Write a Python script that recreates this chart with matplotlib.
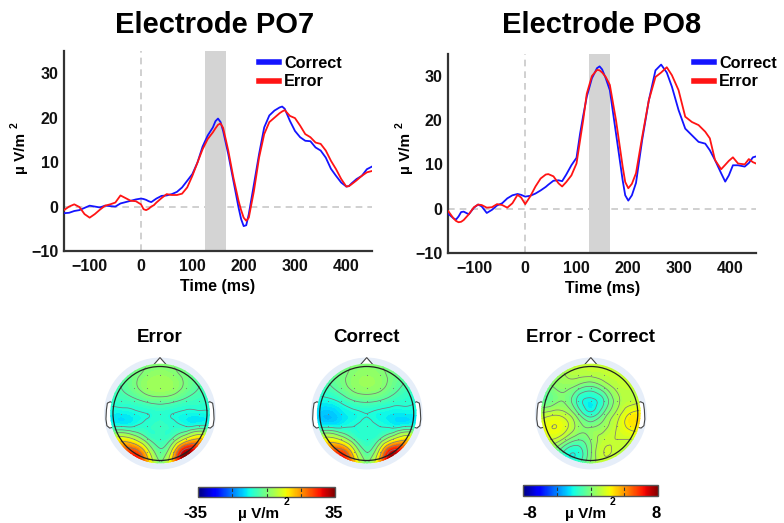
import numpy as np
import matplotlib
matplotlib.use('Agg')
import matplotlib.pyplot as plt
import matplotlib.tri as mtri
from matplotlib.patches import Circle, Polygon
from matplotlib.lines import Line2D
from matplotlib.cm import ScalarMappable
from matplotlib.colors import Normalize

# ---------------- data ----------------
# Electrode PO7
t_po7 = [-150, -140, -130, -120, -110, -100, -90, -80, -70, -60, -50, -40, -30, -20, -10,
         0, 5, 10, 15, 20, 25, 30, 40, 50, 60, 70, 80, 90, 100, 110, 120, 130, 140, 145,
         150, 155, 160, 170, 180, 190, 195, 200, 205, 210, 220, 230, 240, 250, 260, 270,
         275, 280, 290, 300, 310, 320, 330, 340, 350, 360, 370, 380, 390, 400, 405, 410,
         420, 430, 440, 450]
po7_correct = [-1.5, -1.4, -1.0, -0.8, -0.3, 0.2, 0.0, -0.2, 0.2, 0.1, 0.0, 0.7, 1.0, 1.3, 1.6,
               1.8, 1.7, 1.5, 1.2, 1.0, 1.4, 1.8, 2.4, 2.5, 2.8, 3.3, 4.3, 5.8, 7.3, 9.9, 13.5, 16.0, 17.8, 19.2,
               19.8, 19.0, 17.0, 11.8, 5.8, -0.2, -2.8, -4.4, -4.2, -1.7, 5.0, 11.8, 17.8, 20.5, 21.6, 22.3,
               22.5, 22.0, 19.3, 17.0, 15.6, 14.8, 14.7, 13.3, 12.6, 11.0, 8.5, 6.9, 5.4, 4.5, 4.6, 5.2,
               6.2, 6.9, 8.4, 9.0]
po7_error = [-0.8, 0.0, 0.5, -0.1, -1.7, -2.5, -1.7, -0.7, 0.2, 0.5, 0.9, 2.5, 1.9, 1.3, 1.2,
             0.5, -0.6, -0.8, -0.5, 0.0, 0.3, 0.9, 1.9, 2.8, 2.6, 2.6, 2.9, 4.3, 6.9, 9.9, 12.9, 15.2, 16.7, 17.6,
             18.4, 18.7, 17.7, 12.6, 6.5, 1.3, -0.8, -2.5, -3.2, -2.5, 3.5, 11.0, 16.3, 19.0, 20.0, 21.0,
             21.4, 21.7, 20.4, 19.9, 18.2, 16.3, 15.6, 14.4, 14.1, 12.6, 10.3, 8.4, 6.2, 4.5, 4.6, 5.0,
             5.9, 6.9, 7.7, 8.0]

# Electrode PO8
t_po8 = [-150, -140, -135, -130, -125, -120, -110, -100, -92, -85, -75, -65, -55, -45, -35, -25,
         -15, -8, 0, 10, 20, 30, 40, 45, 55, 65, 72, 80, 90, 100, 107, 113, 120, 130, 140, 145,
         150, 157, 165, 177, 190, 195, 201, 208, 216, 228, 241, 254, 265, 276, 286, 299, 312,
         325, 338, 351, 360, 370, 382, 390, 397, 405, 415, 428, 436, 444, 450]
po8_correct = [-1.2, -2.2, -2.5, -1.8, -0.8, -0.7, -1.3, 0.2, 0.9, 0.5, -1.0, -0.3, 0.7, 1.2, 2.3, 3.0,
               3.3, 3.1, 2.7, 2.9, 3.4, 4.1, 4.9, 5.4, 6.3, 6.4, 6.2, 7.7, 9.8, 11.5, 17.0, 21.0, 25.3, 29.5, 31.8, 32.2,
               31.5, 29.5, 26.8, 17.0, 6.4, 3.0, 1.8, 3.0, 5.8, 15.5, 24.5, 31.3, 32.6, 30.8, 27.6, 22.3, 18.1,
               16.6, 15.1, 14.7, 13.2, 11.0, 8.0, 6.1, 7.5, 9.8, 9.8, 9.5, 10.3, 11.6, 11.8]
po8_error = [-0.6, -2.2, -2.8, -3.1, -3.0, -2.6, -1.3, 0.3, 0.9, 0.8, 0.2, 0.3, 1.0, 0.8, 0.2, 1.2,
             3.1, 2.5, 1.0, 2.8, 5.0, 6.8, 7.7, 7.8, 7.3, 5.7, 5.0, 6.0, 7.5, 10.2, 15.5, 20.0, 26.0, 30.0, 31.4, 31.3,
             30.8, 29.8, 28.0, 20.0, 9.5, 6.0, 4.6, 5.6, 8.0, 16.2, 24.5, 29.8, 30.8, 32.0, 30.2, 26.8, 20.8,
             19.6, 18.9, 17.4, 15.9, 11.0, 8.9, 9.9, 10.8, 11.6, 10.2, 10.0, 11.2, 10.5, 10.2]

window_ms = [125, 165]
x_ticks = [-100, 0, 100, 200, 300, 400]
y_ticks = [-10, 0, 10, 20, 30]
legend_labels = ['Correct', 'Error']

# Scalp maps: values on a 9x9 grid (rows front -> back, columns left -> right)
topo_error = [
    [-2, -2, -1, 0, 0, 0, -1, -2, -2],
    [-3, -3, -1, 1, 2, 1, -1, -3, -3],
    [-5, -4, -1, 2, 3, 2, -1, -4, -5],
    [-7, -6, -5, -3, -2, -3, -5, -6, -7],
    [-9, -10, -9, -8, -7, -8, -9, -9, -8],
    [-7, -8, -8, -7, -6, -7, -8, -7, -6],
    [6, 10, 6, -3, -6, -3, 8, 14, 10],
    [14, 20, 24, 10, -3, 10, 32, 24, 16],
    [14, 22, 28, 16, 0, 16, 34, 28, 16],
]
topo_correct = [
    [-2, -2, -1, 0, 0, 0, -1, -2, -2],
    [-4, -3, -1, 1, 2, 1, -1, -3, -4],
    [-6, -5, -2, 1, 2, 1, -2, -5, -6],
    [-9, -9, -7, -4, -3, -4, -6, -7, -8],
    [-11, -13, -11, -9, -8, -9, -10, -10, -9],
    [-8, -9, -9, -8, -7, -8, -9, -8, -7],
    [5, 9, 5, -4, -7, -4, 6, 12, 9],
    [13, 18, 24, 9, -4, 9, 30, 22, 15],
    [14, 22, 28, 16, 0, 16, 32, 26, 16],
]
topo_diff = [
    [1, 1, 1.2, 1.3, 1.3, 1.3, 1.2, 1, 1],
    [0, 0.3, 0.8, 1.0, 1.0, 1.2, 1.3, 1.2, 1],
    [-0.5, 0, 0.3, -0.3, -0.8, 0, 1.0, 1.3, 1.2],
    [-0.5, -0.3, 0, -1.5, -2.2, -1.3, 0.5, 1.2, 1.5],
    [0.8, 1.2, 1.0, -0.5, -1.8, -0.5, 1.0, 2.2, 2.5],
    [1.8, 2.2, 1.8, 0.5, 0, 0.5, 1.5, 2.4, 2.6],
    [1.2, 1.5, 0.5, -0.5, 0.2, 1.2, 1.5, 1.5, 1.5],
    [0.5, 0, -1.5, -1.8, 0, 1.5, 1.3, 1, 1],
    [0.5, 0, -1.2, -1.2, 0.3, 1.2, 1, 1, 1],
]
topo_titles = ['Error', 'Correct', 'Error - Correct']
cbar_limits = [35, 8]

# ---------------- style ----------------
plt.rcParams['font.family'] = ['Liberation Sans', 'DejaVu Sans']
plt.rcParams['font.weight'] = 'bold'

W, H = 784, 523
fig = plt.figure(figsize=(W / 100, H / 100), dpi=100)


def fx(px):
    return px / W


def fy(py):
    return 1 - py / H


def erp_panel(box, t, corr, err, title, title_x, xlabel_y, ylab_x, leg_anchor):
    x0, y0, x1, y1 = box
    ax = fig.add_axes([fx(x0), fy(y1), (x1 - x0) / W, (y1 - y0) / H])
    ax.axvspan(window_ms[0], window_ms[1], color='#d4d4d4', lw=0, zorder=1)
    ax.axhline(0, color='#c8c8c8', ls=(0, (4, 3)), lw=1.2, zorder=0.5)
    ax.axvline(0, color='#c8c8c8', ls=(0, (4, 3)), lw=1.2, zorder=0.5)
    ax.plot(t, corr, color='#1414ff', lw=1.3, zorder=3, solid_joinstyle='round')
    ax.plot(t, err, color='#ff1414', lw=1.3, zorder=3, solid_joinstyle='round')
    ax.set_xlim(-150, 450)
    ax.set_ylim(-10, 35)
    ax.set_xticks(x_ticks)
    ax.set_yticks(y_ticks)
    ax.tick_params(length=0, labelsize=11.5, colors='#111111')
    ax.tick_params(axis='x', pad=6)
    ax.tick_params(axis='y', pad=4)
    for s in ['top', 'right']:
        ax.spines[s].set_visible(False)
    for s in ['left', 'bottom']:
        ax.spines[s].set_color('#333333')
        ax.spines[s].set_linewidth(1.6)
    handles = [Line2D([], [], color='#1414ff', lw=4), Line2D([], [], color='#ff1414', lw=4)]
    ax.legend(handles, legend_labels, loc='upper left', bbox_to_anchor=leg_anchor,
              frameon=False, fontsize=11.7, handlelength=1.2, handletextpad=0.35,
              labelspacing=0.2, borderpad=0, borderaxespad=0)
    cx = (x0 + x1) / 2
    fig.text(fx(title_x), fy(25), title, ha='center', va='center', fontsize=21)
    fig.text(fx(cx), fy(xlabel_y), 'Time (ms)', ha='center', va='center', fontsize=11.5)
    fig.text(fx(ylab_x), fy(153), 'µ V/m', ha='center', va='center', rotation=90, fontsize=11)
    fig.text(fx(ylab_x - 6), fy(125), '2', ha='center', va='center', rotation=90, fontsize=7.5)
    return ax


erp_panel((64, 51, 372, 251), t_po7, po7_correct, po7_error, 'Electrode PO7', 214.5, 287,
          21, ((259 - 64) / 308, (251 - 56) / 200))
erp_panel((448.3, 54, 756, 252.7), t_po8, po8_correct, po8_error, 'Electrode PO8', 602, 288.5,
          406, ((694 - 448.3) / 307.7, (252.7 - 56) / 198.7))

# ---------------- scalp maps ----------------
R_PX = 47.0
LIM = 1.45


def topo(cx, cy, vals, lim, title, line_levels):
    s = 2 * LIM * R_PX
    ax = fig.add_axes([fx(cx - s / 2), fy(cy + s / 2), s / W, s / H])
    ax.set_xlim(-LIM, LIM)
    ax.set_ylim(-LIM, LIM)
    ax.axis('off')
    Z = np.array(vals, dtype=float)
    n = Z.shape[0]
    xs = np.linspace(-1.1, 1.1, n)
    ys = np.linspace(1.1, -1.1, n)
    X, Y = np.meshgrid(xs, ys)
    tri = mtri.Triangulation(X.ravel(), Y.ravel())
    refiner = mtri.UniformTriRefiner(tri)
    tri_r, z_r = refiner.refine_field(Z.ravel(), subdiv=4)
    ax.add_patch(Circle((0, 0), 1.19, fc='#e6eef9', ec='none', zorder=0))
    # ears
    for sgn in (-1, 1):
        ear = [(0.99, 0.22), (1.06, 0.25), (1.12, 0.22), (1.14, 0.08), (1.15, -0.12),
               (1.13, -0.26), (1.07, -0.31), (0.99, -0.29)]
        ax.add_patch(Polygon([(sgn * a, b) for a, b in ear], closed=False, fc='white',
                             ec='#444444', lw=0.8, zorder=1))
    # nose
    ax.add_patch(Polygon([(-0.18, 0.984), (0, 1.19), (0.18, 0.984)], closed=False,
                         fc='white', ec='#444444', lw=0.8, zorder=1))
    clip = Circle((0, 0), 1.06, transform=ax.transData)
    cf = ax.tricontourf(tri_r, z_r, levels=np.linspace(-lim, lim, 65), cmap='jet',
                        extend='both', zorder=2)
    cf.set_clip_path(clip)
    cl = ax.tricontour(tri_r, z_r, levels=line_levels, colors='#7a7a7a', linewidths=0.55,
                       linestyles='solid', zorder=3)
    cl.set_clip_path(Circle((0, 0), 1.03, transform=ax.transData))
    inside = X ** 2 + Y ** 2 < 0.95
    ax.scatter(X[inside], Y[inside], s=0.6, color='#777777', lw=0, zorder=4)
    ax.add_patch(Circle((0, 0), 1.0, fill=False, ec='#222222', lw=0.9, zorder=5))
    fig.text(fx(cx), fy(338), title, ha='center', va='center', fontsize=13.5)


topo(160, 413.5, topo_error, cbar_limits[0], topo_titles[0], [-8, -4, 0, 6, 13, 20, 27])
topo(366.7, 413.5, topo_correct, cbar_limits[0], topo_titles[1], [-8, -4, 0, 6, 13, 20, 27])
topo(590.8, 413.5, topo_diff, cbar_limits[1], topo_titles[2], [-2, -1.3, -0.6, 0.1, 0.8, 1.5, 2.2])


def cbar(x0, x1, y0, y1, lim, lab_l, lab_r, unit_x):
    cax = fig.add_axes([fx(x0), fy(y1), (x1 - x0) / W, (y1 - y0) / H])
    cb = fig.colorbar(ScalarMappable(norm=Normalize(-lim, lim), cmap='jet'), cax=cax,
                      orientation='horizontal', ticks=[])
    cb.outline.set_edgecolor('#555555')
    cb.outline.set_linewidth(1.0)
    for v in np.linspace(-lim, lim, 5)[1:-1]:
        cax.axvline(v, color='#333333', ls=(0, (3, 2)), lw=0.8)
    fig.text(fx(lab_l), fy(513), '-%d' % lim, ha='center', va='center', fontsize=12)
    fig.text(fx(lab_r), fy(513), '%d' % lim, ha='center', va='center', fontsize=12)
    fig.text(fx(unit_x), fy(514), 'µ V/m', ha='center', va='center', fontsize=11)
    fig.text(fx(unit_x + 27), fy(502), '2', ha='center', va='center', fontsize=7.5)


cbar(198.3, 335, 486.7, 496.7, cbar_limits[0], 195, 334, 259)
cbar(522.7, 658.3, 485, 496, cbar_limits[1], 530, 656, 585.5)

fig.savefig('out.png', dpi=100)
